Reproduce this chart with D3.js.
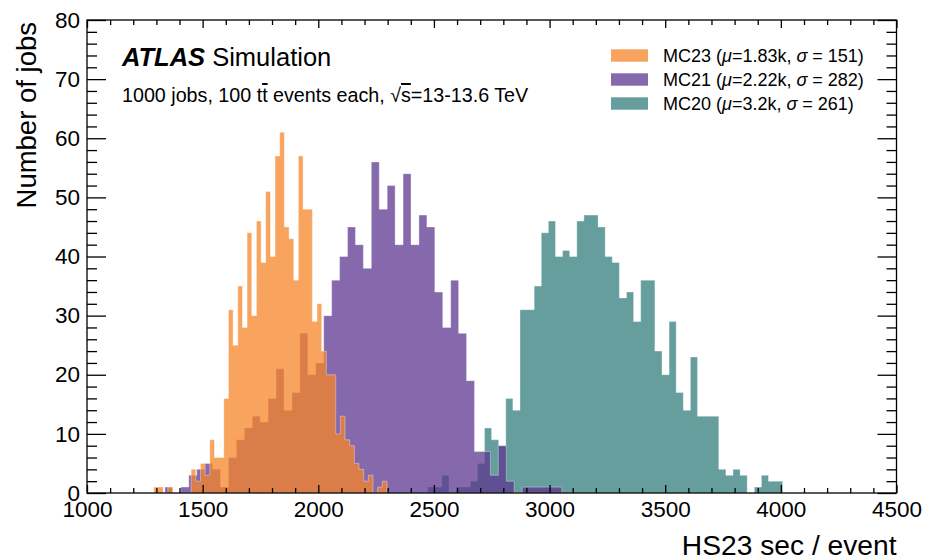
<!DOCTYPE html>
<html><head><meta charset="utf-8">
<script src="https://cdn.jsdelivr.net/npm/d3@7"></script>
<style>
body{margin:0;background:#fff}
svg{display:block}
text{font-family:"Liberation Sans",Arial,Helvetica,sans-serif;fill:#000}
</style>
</head><body>
<svg id="chart" width="936" height="560"></svg>
<script>
// ---------------- data ----------------
// 50-bin histograms, each binned over its own [min, max] range
const mc23Counts = [1,1,0,1,0,0,0,0,4,2,5,3,9,6,6,16,31,25,35,28,44,30,46,39,51,40,57,61,45,43,36,57,48,48,29,32,24,20,20,10,13,9,8,5,4,2,3,0,1,2];
const mc23Range = [1289, 2297];
const mc21Counts = [1,0,1,3,4,5,4,1,6,9,11,13,12,16,21,14,17,27,20,22,30,36,40,45,42,38,56,48,52,42,54,42,47,45,34,28,36,27,19,7,7,3,8,2,0,1,1,1,1,1];
const mc21Range = [1337, 3053];
const mc20Counts = [1,1,3,0,1,1,2,5,11,9,8,16,14,31,31,35,44,46,40,41,40,46,47,47,45,40,39,33,34,29,36,36,24,20,29,17,14,23,13,13,13,4,3,4,3,0,1,3,2,2];
const mc20Range = [2473, 4008];

const seriesNames = ["MC23", "MC21", "MC20"];
const seriesMu = ["1.83k", "2.22k", "3.2k"];
const seriesSigma = ["151", "282", "261"];
const seriesColors = ["#f68428", "#5e3790", "#337c7c"];

const xMajorTicks = [1000, 1500, 2000, 2500, 3000, 3500, 4000, 4500];
const yMajorTicks = [0, 10, 20, 30, 40, 50, 60, 70, 80];

// ---------------- layout ----------------
const svg = d3.select("#chart");
const L = 87, R = 896.5, T = 20, B = 493;
const x = d3.scaleLinear().domain([1000, 4500]).range([L, R]);
const y = d3.scaleLinear().domain([0, 80]).range([B, T]);
const alpha = 0.75;

const series = [
  {name: "MC20", counts: mc20Counts, range: mc20Range, color: seriesColors[2]},
  {name: "MC21", counts: mc21Counts, range: mc21Range, color: seriesColors[1]},
  {name: "MC23", counts: mc23Counts, range: mc23Range, color: seriesColors[0]}
];

const area = d3.area()
  .curve(d3.curveStepAfter)
  .x(d => x(d.x))
  .y0(y(0))
  .y1(d => y(d.c));

const gHist = svg.append("g");
series.forEach(s => {
  const n = s.counts.length;
  const w = (s.range[1] - s.range[0]) / n;
  const pts = s.counts.map((c, i) => ({x: s.range[0] + i * w, c}));
  pts.push({x: s.range[1], c: s.counts[n - 1]});
  gHist.append("path")
    .attr("d", area(pts))
    .attr("fill", s.color)
    .attr("fill-opacity", alpha)
    .attr("stroke", "#ffffff")
    .attr("stroke-opacity", 0.45)
    .attr("stroke-width", 0.8);
});

// ---------------- axes ----------------
const xMinor = d3.range(1000, 4501, 100).filter(v => !xMajorTicks.includes(v));
const yMinor = d3.range(0, 81, 2).filter(v => !yMajorTicks.includes(v));

function styleAxis(g){
  g.select(".domain").remove();
  g.selectAll(".tick line").attr("stroke", "#000").attr("stroke-width", 1.3);
  g.selectAll(".tick text").attr("fill", "#000").style("font-size", "22.5px")
    .style("font-family", '"Liberation Sans",Arial,sans-serif');
}

// bottom
svg.append("g").attr("transform", `translate(0,${B})`)
  .call(d3.axisBottom(x).tickValues(xMajorTicks).tickSize(-8).tickSizeOuter(0).tickPadding(8).tickFormat(d3.format("d")))
  .call(styleAxis);
svg.append("g").attr("transform", `translate(0,${B})`)
  .call(d3.axisBottom(x).tickValues(xMinor).tickSize(-5).tickSizeOuter(0).tickFormat(""))
  .call(styleAxis);
// top
svg.append("g").attr("transform", `translate(0,${T})`)
  .call(d3.axisTop(x).tickValues(xMajorTicks).tickSize(-8).tickSizeOuter(0).tickFormat(""))
  .call(styleAxis);
svg.append("g").attr("transform", `translate(0,${T})`)
  .call(d3.axisTop(x).tickValues(xMinor).tickSize(-5).tickSizeOuter(0).tickFormat(""))
  .call(styleAxis);
// left
svg.append("g").attr("transform", `translate(${L},0)`)
  .call(d3.axisLeft(y).tickValues(yMajorTicks).tickSize(-19).tickSizeOuter(0).tickPadding(7).tickFormat(d3.format("d")))
  .call(styleAxis);
svg.append("g").attr("transform", `translate(${L},0)`)
  .call(d3.axisLeft(y).tickValues(yMinor).tickSize(-10).tickSizeOuter(0).tickFormat(""))
  .call(styleAxis);
// right
svg.append("g").attr("transform", `translate(${R},0)`)
  .call(d3.axisRight(y).tickValues(yMajorTicks).tickSize(-19).tickSizeOuter(0).tickFormat(""))
  .call(styleAxis);
svg.append("g").attr("transform", `translate(${R},0)`)
  .call(d3.axisRight(y).tickValues(yMinor).tickSize(-10).tickSizeOuter(0).tickFormat(""))
  .call(styleAxis);

// frame
svg.append("rect").attr("x", L).attr("y", T).attr("width", R - L).attr("height", B - T)
  .attr("fill", "none").attr("stroke", "#000").attr("stroke-width", 1.3);

// axis titles
svg.append("text")
  .attr("transform", `translate(36,${T + 2}) rotate(-90)`)
  .attr("text-anchor", "end")
  .style("font-size", "27.5px")
  .text("Number of jobs");
svg.append("text")
  .attr("x", R).attr("y", 555)
  .attr("text-anchor", "end")
  .style("font-size", "28.2px")
  .text("HS23 sec / event");

// ATLAS label
const atl = svg.append("text").attr("x", 122).attr("y", 65.5).style("font-size", "25.5px");
atl.append("tspan").style("font-weight", "bold").style("font-style", "italic").text("ATLAS");
atl.append("tspan").text(" Simulation");

const sub = svg.append("text").attr("x", 122).attr("y", 102).style("font-size", "19.7px");
sub.append("tspan").text("1000 jobs, 100 t");
sub.append("tspan").style("text-decoration", "overline").text("t");
sub.append("tspan").text(" events each, √");
sub.append("tspan").style("text-decoration", "overline").text("s");
sub.append("tspan").text("=13-13.6 TeV");

// legend
const leg = svg.append("g");
seriesNames.forEach((nm, i) => {
  const yy = 61.7 + i * 24;
  leg.append("rect")
    .attr("x", 611).attr("y", yy - 12.4).attr("width", 37).attr("height", 12.4)
    .attr("fill", seriesColors[i]).attr("fill-opacity", alpha);
  const t = leg.append("text").attr("x", 663).attr("y", yy).style("font-size", "18px");
  t.append("tspan").text(nm + " (");
  t.append("tspan").style("font-style", "italic").text("μ");
  t.append("tspan").text("=" + seriesMu[i] + ", ");
  t.append("tspan").style("font-style", "italic").text("σ");
  t.append("tspan").text(" = " + seriesSigma[i] + ")");
});
</script>
</body></html>
